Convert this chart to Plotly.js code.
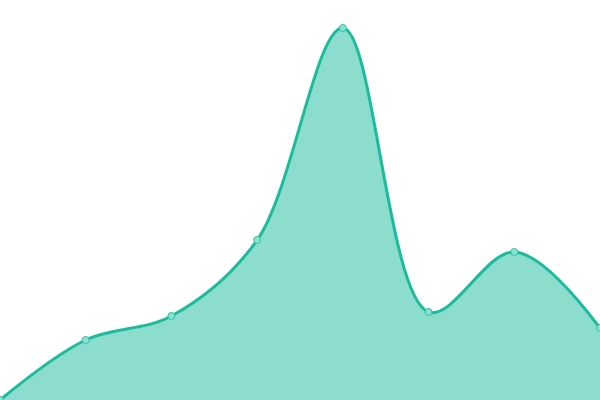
<!DOCTYPE html>
<html>
<head>
<meta charset="utf-8">
<script src="https://cdn.plot.ly/plotly-3.0.1.min.js"></script>
<style>
  html, body { margin: 0; padding: 0; background: #ffffff; }
  #myChart { width: 600px; height: 400px; }
</style>
</head>
<body>
<div id="myChart"></div>
<script>
// values (y axis 0..100, hidden)
var xs = [0, 1, 2, 3, 4, 5, 6, 7];
var values = [0, 15, 21, 40, 93, 22, 37, 18];

var data = [{
  x: xs,
  y: values,
  type: 'scatter',
  mode: 'lines+markers',
  fill: 'tozeroy',
  fillcolor: 'rgba(26, 188, 156, 0.5)',
  line: {
    shape: 'spline',
    smoothing: 1,
    color: '#1abc9c',
    width: 3
  },
  marker: {
    size: 7,
    color: '#8ce0cf',
    line: { color: '#2cc4a4', width: 1 }
  },
  hoverinfo: 'skip'
}];

var layout = {
  width: 600,
  height: 400,
  paper_bgcolor: '#ffffff',
  plot_bgcolor: '#ffffff',
  margin: { l: 0, r: 0, t: 0, b: 0 },
  xaxis: {
    range: [0, 7],
    visible: false,
    showgrid: false,
    zeroline: false
  },
  yaxis: {
    range: [0, 100],
    visible: false,
    showgrid: false,
    zeroline: false
  },
  showlegend: false
};

Plotly.newPlot('myChart', data, layout, {displayModeBar: false, staticPlot: true});
</script>
</body>
</html>
